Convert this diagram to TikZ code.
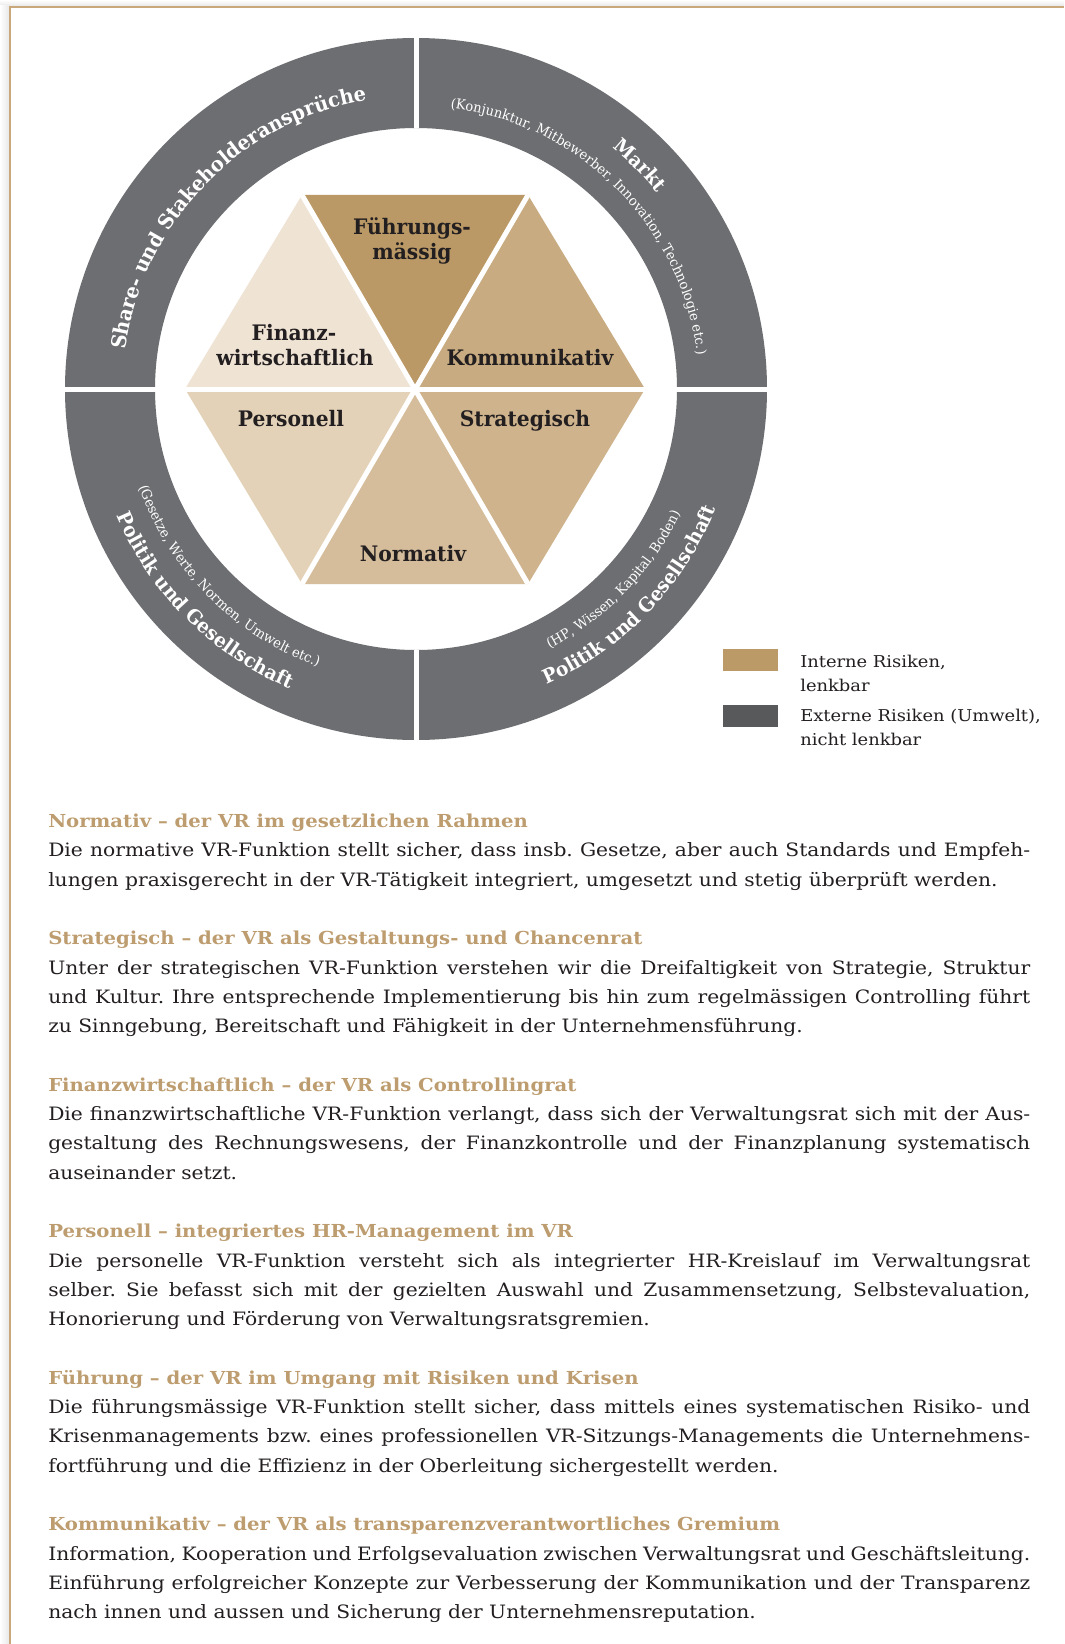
\documentclass[tikz,border=0pt]{standalone}
\usepackage{fontspec}
\setmainfont{DejaVu Serif}[FakeStretch=1.1]
\newfontfamily\labelserif{DejaVu Serif}[FakeStretch=0.95]
\usetikzlibrary{decorations.text,calc}
\definecolor{ringgray}{HTML}{6D6E71}
\definecolor{tanA}{HTML}{BA9966}
\definecolor{tanB}{HTML}{C8AB80}
\definecolor{tanC}{HTML}{CEB38D}
\definecolor{tanD}{HTML}{D5BD9B}
\definecolor{tanE}{HTML}{E4D2B8}
\definecolor{tanF}{HTML}{EFE3D4}
\definecolor{legtan}{HTML}{BB9A68}
\definecolor{leggray}{HTML}{58595B}
\definecolor{headtan}{HTML}{BD9D6F}
\definecolor{txt}{HTML}{231F20}
\definecolor{framec}{HTML}{C9A97C}
\newcommand\bodyfont{\frenchspacing\fontsize{13.8pt}{16pt}\selectfont}
\newcommand\headfont{\frenchspacing\fontsize{13.4pt}{16pt}\selectfont\bfseries}
\newcommand\trifont{\labelserif\fontsize{16pt}{18pt}\selectfont\bfseries}
\newcommand\ringb{\labelserif\fontsize{14.7pt}{16pt}\selectfont\bfseries\color{white}}
\newcommand\ringbb{\labelserif\fontsize{15.3pt}{16pt}\selectfont\bfseries\color{white}}
\newcommand\rings{\labelserif\fontsize{10.3pt}{12pt}\selectfont\color{white}}
\newcommand\legfont{\fontsize{12.2pt}{15pt}\selectfont}
\newcommand\jline[1]{\makebox[736.5pt][s]{#1}}
\begin{document}
\begin{tikzpicture}[x=0.75pt,y=0.75pt,
  gap/.style={white,line width=3.75pt},
  trilabel/.style={anchor=base,inner sep=0pt,font=\trifont,text=txt},
  bodyline/.style={anchor=base west,inner sep=0pt,font=\bodyfont,text=txt},
  headline/.style={anchor=base west,inner sep=0pt,font=\headfont,text=headtan},
  legbox/.style={minimum width=41.25pt,minimum height=16.5pt,inner sep=0pt,draw=none},
  legtext/.style={anchor=base west,inner sep=0pt,font=\legfont,text=txt}]
\useasboundingbox (0,0) rectangle (1064,-1644);
\fill[white] (0,0) rectangle (1064,-1644);
% frame with soft shadow
\shade[top color=white,bottom color=black!9] (0,0) rectangle (1064,-6);
\shade[left color=white,right color=black!9] (0,-6) rectangle (9,-1644);
\draw[framec,line width=1.5pt] (10,-1644) -- (10,-7) -- (1064,-7);
% ring
\coordinate (c) at (416,-389);
\fill[ringgray,even odd rule] (c) circle[radius=351] (c) circle[radius=261];
\draw[gap] (416,-128) -- (416,-32);
\draw[gap] (416,-650) -- (416,-746);
\draw[gap] (59,-389) -- (161,-389);
\draw[gap] (671,-389) -- (773,-389);
% hexagon
\coordinate (h0) at (645,-389);
\coordinate (h60) at (528,-195);
\coordinate (h120) at (302,-195);
\coordinate (h180) at (185,-389);
\coordinate (h240) at (302,-584);
\coordinate (h300) at (528,-584);
\coordinate (hc) at (415,-389);
\fill[tanA] (hc) -- (h60) -- (h120) -- cycle;
\fill[tanB] (hc) -- (h0) -- (h60) -- cycle;
\fill[tanC] (hc) -- (h300) -- (h0) -- cycle;
\fill[tanD] (hc) -- (h240) -- (h300) -- cycle;
\fill[tanE] (hc) -- (h180) -- (h240) -- cycle;
\fill[tanF] (hc) -- (h120) -- (h180) -- cycle;
\draw[gap] (h180) -- (h0);
\draw[gap] (h120) -- (h300);
\draw[gap] (h60) -- (h240);
% triangle labels
\node[trilabel] (fuA) at (412,-235) {Führungs-};
\node[trilabel] (fuB) at (412,-260) {mässig};
\node[trilabel] (fiA) at (294,-340) {Finanz-};
\node[trilabel] (fiB) at (295,-365.7) {wirtschaftlich};
\node[trilabel] (ko) at (530,-365.7) {Kommunikativ};
\node[trilabel] (pe) at (291,-426) {Personell};
\node[trilabel] (st) at (525,-426) {Strategisch};
\node[trilabel] (no) at (413,-561.7) {Normativ};
% ring texts
\path[decorate,decoration={text along path,text align=center,
  text={|\ringbb|Share- und Stakeholderansprüche}}]
  ($(c)+(181:293)$) arc[start angle=181,end angle=91,radius=293];
\path[decorate,decoration={text along path,text align=center,
  text={|\ringb|Markt}}]
  ($(c)+(90:311)$) arc[start angle=90,end angle=0,radius=311];
\path[decorate,decoration={text along path,text align=center,
  text={|\rings|(Konjunktur, Mitbewerber, Innovation, Technologie etc.)}}]
  ($(c)+(90:283)$) arc[start angle=90,end angle=0,radius=283];
\path[decorate,decoration={text along path,text align=center,
  text={|\ringb|Politik und Gesellschaft}}]
  ($(c)+(180:325)$) arc[start angle=180,end angle=270,radius=325];
\path[decorate,decoration={text along path,text align=center,
  text={|\rings|(Gesetze, Werte, Normen, Umwelt etc.)}}]
  ($(c)+(180:294)$) arc[start angle=180,end angle=270,radius=294];
\path[decorate,decoration={text along path,text align=center,
  text={|\ringb|Politik und Gesellschaft}}]
  ($(c)+(271:323)$) arc[start angle=271,end angle=361,radius=323];
\path[decorate,decoration={text along path,text align=center,
  text={|\rings|(HP, Wissen, Kapital, Boden)}}]
  ($(c)+(271:292)$) arc[start angle=271,end angle=361,radius=292];
% legend
\node[legbox,fill=legtan] (lb1) at (750.5,-659.5) {};
\node[legbox,fill=leggray] (lb2) at (750.5,-715.5) {};
\node[legtext] (lt1a) at (800,-667) {Interne Risiken,};
\node[legtext] (lt1b) at (800,-691) {lenkbar};
\node[legtext] (lt2a) at (800,-721.5) {Externe Risiken (Umwelt),};
\node[legtext] (lt2b) at (800,-745) {nicht lenkbar};
% text section
\node[headline] (h1) at (48,-827.5) {Normativ – der VR im gesetzlichen Rahmen};
\node[bodyline] (b1a) at (48,-856.8) {\jline{Die normative VR-Funktion stellt sicher, dass insb. Gesetze, aber auch Standards und Empfeh-}};
\node[bodyline] (b1b) at (48,-886.1) {lungen praxisgerecht in der VR-Tätigkeit integriert, umgesetzt und stetig überprüft werden.};
\node[headline] (h2) at (48,-944.7) {Strategisch – der VR als Gestaltungs- und Chancenrat};
\node[bodyline] (b2a) at (48,-974) {\jline{Unter der strategischen VR-Funktion verstehen wir die Dreifaltigkeit von Strategie, Struktur}};
\node[bodyline] (b2b) at (48,-1003.3) {\jline{und Kultur. Ihre entsprechende Implementierung bis hin zum regelmässigen Controlling führt}};
\node[bodyline] (b2c) at (48,-1032.6) {zu Sinngebung, Bereitschaft und Fähigkeit in der Unternehmensführung.};
\node[headline] (h3) at (48,-1091.2) {Finanzwirtschaftlich – der VR als Controllingrat};
\node[bodyline] (b3a) at (48,-1120.5) {\jline{Die finanzwirtschaftliche VR-Funktion verlangt, dass sich der Verwaltungsrat sich mit der Aus-}};
\node[bodyline] (b3b) at (48,-1149.8) {\jline{gestaltung des Rechnungswesens, der Finanzkontrolle und der Finanzplanung systematisch}};
\node[bodyline] (b3c) at (48,-1179.1) {auseinander setzt.};
\node[headline] (h4) at (48,-1237.7) {Personell – integriertes HR-Management im VR};
\node[bodyline] (b4a) at (48,-1267) {\jline{Die personelle VR-Funktion versteht sich als integrierter HR-Kreislauf im Verwaltungsrat}};
\node[bodyline] (b4b) at (48,-1296.3) {\jline{selber. Sie befasst sich mit der gezielten Auswahl und Zusammensetzung, Selbstevaluation,}};
\node[bodyline] (b4c) at (48,-1325.6) {Honorierung und Förderung von Verwaltungsratsgremien.};
\node[headline] (h5) at (48,-1384.2) {Führung – der VR im Umgang mit Risiken und Krisen};
\node[bodyline] (b5a) at (48,-1413.5) {\jline{Die führungsmässige VR-Funktion stellt sicher, dass mittels eines systematischen Risiko- und}};
\node[bodyline] (b5b) at (48,-1442.8) {\jline{Krisenmanagements bzw. eines professionellen VR-Sitzungs-Managements die Unternehmens-}};
\node[bodyline] (b5c) at (48,-1472.1) {fortführung und die Effizienz in der Oberleitung sichergestellt werden.};
\node[headline] (h6) at (48,-1530.7) {Kommunikativ – der VR als transparenzverantwortliches Gremium};
\node[bodyline] (b6a) at (48,-1560) {\jline{Information, Kooperation und Erfolgsevaluation zwischen Verwaltungsrat und Geschäftsleitung.}};
\node[bodyline] (b6b) at (48,-1589.3) {\jline{Einführung erfolgreicher Konzepte zur Verbesserung der Kommunikation und der Transparenz}};
\node[bodyline] (b6c) at (48,-1618.6) {nach innen und aussen und Sicherung der Unternehmensreputation.};
\end{tikzpicture}
\end{document}
